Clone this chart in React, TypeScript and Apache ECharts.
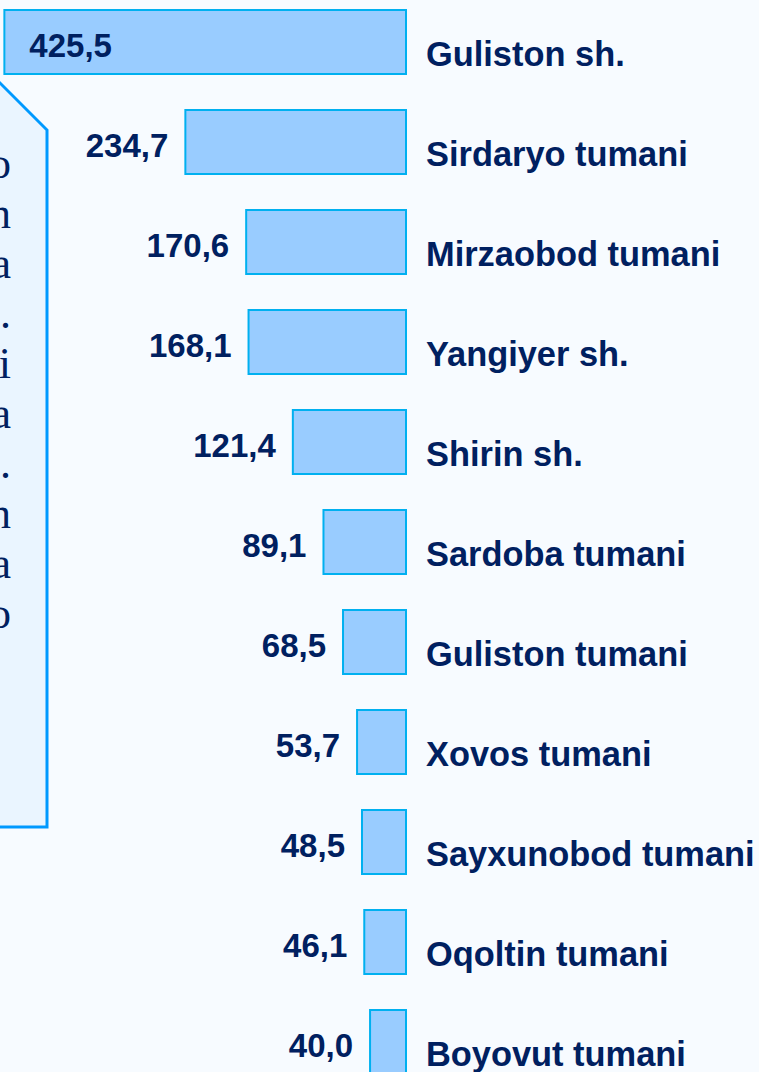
import React, { useEffect, useRef } from "react";
import * as echarts from "echarts";

const categories = [
  "Guliston sh.",
  "Sirdaryo tumani",
  "Mirzaobod tumani",
  "Yangiyer sh.",
  "Shirin sh.",
  "Sardoba tumani",
  "Guliston tumani",
  "Xovos tumani",
  "Sayxunobod tumani",
  "Oqoltin tumani",
  "Boyovut tumani",
];
const values = [425.5, 234.7, 170.6, 168.1, 121.4, 89.1, 68.5, 53.7, 48.5, 46.1, 40.0];
const calloutLetters = ["o", "n", "a", ".", "i", "a", ".", "n", "a", "o"];

const NAVY = "#002060";
const SHIFT = 8; // the chart's div starts 8px above the page

export default function App() {
  const ref = useRef<HTMLDivElement>(null);
  useEffect(() => {
    if (!ref.current) return;
    const chart = echarts.init(ref.current, null, { renderer: "svg" });
    const data = values.map((v, i) =>
      i === 0
        ? { value: v, label: { position: "insideLeft", distance: 26 } }
        : { value: v }
    );
    const calloutTexts = calloutLetters.map((ch, i) => ({
      type: "text",
      x: 11,
      y: 163 + SHIFT + i * 50,
      z: 10,
      style: {
        text: ch,
        fill: NAVY,
        font: '44px "Liberation Serif", "DejaVu Serif", serif',
        align: "right",
        verticalAlign: "middle",
      },
    }));
    chart.setOption({
      animation: false,
      backgroundColor: "#F7FBFF",
      grid: { left: 1, right: 352, top: 0, bottom: 0, containLabel: false },
      xAxis: {
        type: "value",
        min: 0,
        max: 428,
        inverse: true,
        show: false,
      },
      yAxis: {
        type: "category",
        data: categories,
        inverse: true,
        position: "right",
        axisLine: { show: false },
        axisTick: { show: false },
        splitLine: { show: false },
        axisLabel: {
          margin: 19,
          align: "left",
          verticalAlign: "middle",
          formatter: (v: string) => `{a|${v}}`,
          rich: {
            a: {
              color: NAVY,
              fontFamily: '"Liberation Sans", Arial, sans-serif',
              fontWeight: "bold",
              fontSize: 34.4,
              padding: [23, 0, 0, 0],
            },
          },
        },
      },
      series: [
        {
          type: "bar",
          data,
          barWidth: 66,
          itemStyle: { color: "#99CCFF", borderColor: "#00B0F0", borderWidth: 2 },
          label: {
            show: true,
            position: "left",
            distance: 16,
            offset: [0, 3],
            color: NAVY,
            fontFamily: '"Liberation Sans", Arial, sans-serif',
            fontWeight: "bold",
            fontSize: 33,
            formatter: (p: any) => Number(p.value).toFixed(1).replace(".", ","),
          },
        },
      ],
      graphic: [
        {
          type: "polygon",
          z: 5,
          shape: {
            points: [
              [-3, 80 + SHIFT],
              [47, 130 + SHIFT],
              [47, 827 + SHIFT],
              [-3, 827 + SHIFT],
            ],
          },
          style: { fill: "#EAF5FF", stroke: "#0099FF", lineWidth: 3 },
        },
        ...calloutTexts,
      ],
    });
    return () => chart.dispose();
  }, []);
  return (
    <div
      ref={ref}
      style={{ position: "absolute", left: 0, top: -SHIFT, width: 759, height: 1100 }}
    />
  );
}
